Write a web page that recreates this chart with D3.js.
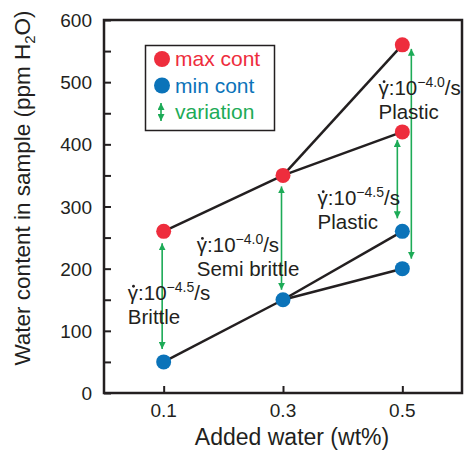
<!DOCTYPE html>
<html>
<head>
<meta charset="utf-8">
<script src="https://cdn.jsdelivr.net/npm/d3@7"></script>
<style>
  body { margin: 0; background: #fff; }
  text { font-family: "Liberation Sans", Arial, sans-serif; fill: #231f20; }
</style>
</head>
<body>
<div id="canvas"></div>
<script>
"use strict"

/* data */
let xTicks = [0.1, 0.3, 0.5];
let yTicks = [0, 100, 200, 300, 400, 500, 600];

let maxX = [0.1, 0.3, 0.5, 0.5];
let maxVals = [260, 350, 420, 560];
let minX = [0.1, 0.3, 0.5, 0.5];
let minVals = [50, 150, 260, 200];

// which points are joined by the black lines
let links = [[0, 1], [1, 2], [1, 3]];

let varX = [0.1, 0.3, 0.5, 0.5];
let varHi = [260, 350, 420, 560];
let varLo = [50, 150, 260, 200];

let rateExp = ["-4.5", "-4.0", "-4.5", "-4.0"];
let regimes = ["Brittle", "Semi brittle", "Plastic", "Plastic"];

let legendLabels = ["max cont", "min cont", "variation"];

/* drawing config */
let svgWidth = 464;
let svgHeight = 450;
let plotLeft = 104, plotRight = 462, plotTop = 20, plotBottom = 393;

let red = "#ee2d3d";
let blue = "#0b73b9";
let green = "#1dab57";
let ink = "#231f20";

let svg = d3.select("#canvas")
    .append("svg")
    .attr("width", svgWidth)
    .attr("height", svgHeight);

svg.append("defs").append("marker")
    .attr("id", "head")
    .attr("viewBox", "0 0 10 10")
    .attr("refX", 10)
    .attr("refY", 5)
    .attr("markerWidth", 7)
    .attr("markerHeight", 7)
    .attr("markerUnits", "userSpaceOnUse")
    .attr("orient", "auto-start-reverse")
    .append("path")
    .attr("d", "M0,0 L10,5 L0,10 Z")
    .attr("fill", green);

let xScale = d3.scaleLinear().domain([0, 0.6]).range([plotLeft, plotRight]);
let yScale = d3.scaleLinear().domain([0, 600]).range([plotBottom, plotTop]);

/* ticks (inside) */
let yAxis = d3.axisLeft(yScale)
    .tickValues(d3.range(0, 601, 50))
    .tickSize(-7)
    .tickFormat("");
svg.append("g")
    .attr("transform", "translate(" + plotLeft + ",0)")
    .call(yAxis)
    .call(g => g.select(".domain").remove())
    .call(g => g.selectAll("line").attr("stroke", ink).attr("stroke-width", 2));

let xAxis = d3.axisBottom(xScale)
    .tickValues(xTicks)
    .tickSize(-7)
    .tickFormat("");
svg.append("g")
    .attr("transform", "translate(0," + plotBottom + ")")
    .call(xAxis)
    .call(g => g.select(".domain").remove())
    .call(g => g.selectAll("line").attr("stroke", ink).attr("stroke-width", 2));

/* tick labels */
svg.selectAll(".ylab")
    .data(yTicks)
    .join("text")
    .attr("x", 92)
    .attr("y", d => yScale(d) + 7)
    .attr("text-anchor", "end")
    .attr("font-size", 19)
    .text(d => d);

svg.selectAll(".xlab")
    .data(xTicks)
    .join("text")
    .attr("x", d => xScale(d))
    .attr("y", 417)
    .attr("text-anchor", "middle")
    .attr("font-size", 19)
    .text(d => d);

/* frame */
svg.append("rect")
    .attr("x", plotLeft)
    .attr("y", plotTop)
    .attr("width", plotRight - plotLeft)
    .attr("height", plotBottom - plotTop)
    .attr("fill", "none")
    .attr("stroke", ink)
    .attr("stroke-width", 2.5);

/* axis titles */
svg.append("text")
    .attr("x", 292)
    .attr("y", 445)
    .attr("text-anchor", "middle")
    .attr("font-size", 23)
    .text("Added water (wt%)");

let yTitle = svg.append("text")
    .attr("transform", "translate(30,188) rotate(-90)")
    .attr("text-anchor", "middle")
    .attr("font-size", 22.5);
yTitle.append("tspan").text("Water content in sample (ppm H");
yTitle.append("tspan").attr("dy", 5).attr("font-size", 15).text("2");
yTitle.append("tspan").attr("dy", -5).text("O)");

/* black connecting lines */
function drawLinks(xs, vs) {
    svg.append("g").selectAll("line")
        .data(links)
        .join("line")
        .attr("x1", d => xScale(xs[d[0]]))
        .attr("y1", d => yScale(vs[d[0]]))
        .attr("x2", d => xScale(xs[d[1]]))
        .attr("y2", d => yScale(vs[d[1]]))
        .attr("stroke", ink)
        .attr("stroke-width", 2.5);
}
drawLinks(maxX, maxVals);
drawLinks(minX, minVals);

/* variation arrows */
let arrowDx = [-1.5, -1.5, -5, 9];
let gapTop = [12, 11, 8, 4];
let gapBot = [13, 10, 13, 10];
svg.append("g").selectAll("line")
    .data(varX)
    .join("line")
    .attr("x1", (d, i) => xScale(d) + arrowDx[i])
    .attr("x2", (d, i) => xScale(d) + arrowDx[i])
    .attr("y1", (d, i) => yScale(varHi[i]) + gapTop[i])
    .attr("y2", (d, i) => yScale(varLo[i]) - gapBot[i])
    .attr("stroke", green)
    .attr("stroke-width", 1.6)
    .attr("marker-start", "url(#head)")
    .attr("marker-end", "url(#head)");

/* points */
svg.append("g").selectAll("circle")
    .data(maxX)
    .join("circle")
    .attr("cx", d => xScale(d))
    .attr("cy", (d, i) => yScale(maxVals[i]))
    .attr("r", 7.5)
    .attr("fill", red);

svg.append("g").selectAll("circle")
    .data(minX)
    .join("circle")
    .attr("cx", d => xScale(d))
    .attr("cy", (d, i) => yScale(minVals[i]))
    .attr("r", 7.5)
    .attr("fill", blue);

/* annotations, anchors in data units */
let annX = [0.04, 0.1555, 0.358, 0.46];
let annY = [150, 227, 302, 479];
regimes.forEach(function (r, i) {
    let ax = xScale(annX[i]);
    let ay = yScale(annY[i]);
    let t = svg.append("text")
        .attr("x", ax)
        .attr("y", ay)
        .attr("font-size", 20.5);
    let g = t.append("tspan").text("\u03B3");
    t.append("tspan").text(":10");
    t.append("tspan").attr("dy", -8).attr("font-size", 14).text(rateExp[i].replace("-", "\u2212"));
    t.append("tspan").attr("dy", 8).text("/s");
    // dot over gamma (strain rate)
    let gw = g.node().getComputedTextLength();
    svg.append("circle")
        .attr("cx", ax + gw / 2 + 0.5)
        .attr("cy", ay - 13.5)
        .attr("r", 1.4)
        .attr("fill", ink);
    svg.append("text")
        .attr("x", ax)
        .attr("y", ay + 24)
        .attr("font-size", 20.5)
        .text(r);
});

/* legend */
let lg = svg.append("g");
lg.append("rect")
    .attr("x", 145.5)
    .attr("y", 45.5)
    .attr("width", 129)
    .attr("height", 85)
    .attr("fill", "#fff")
    .attr("stroke", ink)
    .attr("stroke-width", 1.5);
let legendColors = [red, blue, green];
legendLabels.forEach(function (lab, i) {
    let cy = 59 + i * 26.5;
    if (i < 2) {
        lg.append("circle")
            .attr("cx", 162)
            .attr("cy", cy)
            .attr("r", 8)
            .attr("fill", legendColors[i]);
    } else {
        lg.append("line")
            .attr("x1", 161).attr("x2", 161)
            .attr("y1", cy - 9).attr("y2", cy + 9)
            .attr("stroke", green)
            .attr("stroke-width", 1.6)
            .attr("marker-start", "url(#head)")
            .attr("marker-end", "url(#head)");
    }
    lg.append("text")
        .attr("x", 175)
        .attr("y", cy + 7)
        .attr("font-size", 21)
        .style("fill", legendColors[i])
        .text(lab);
});
</script>
</body>
</html>
